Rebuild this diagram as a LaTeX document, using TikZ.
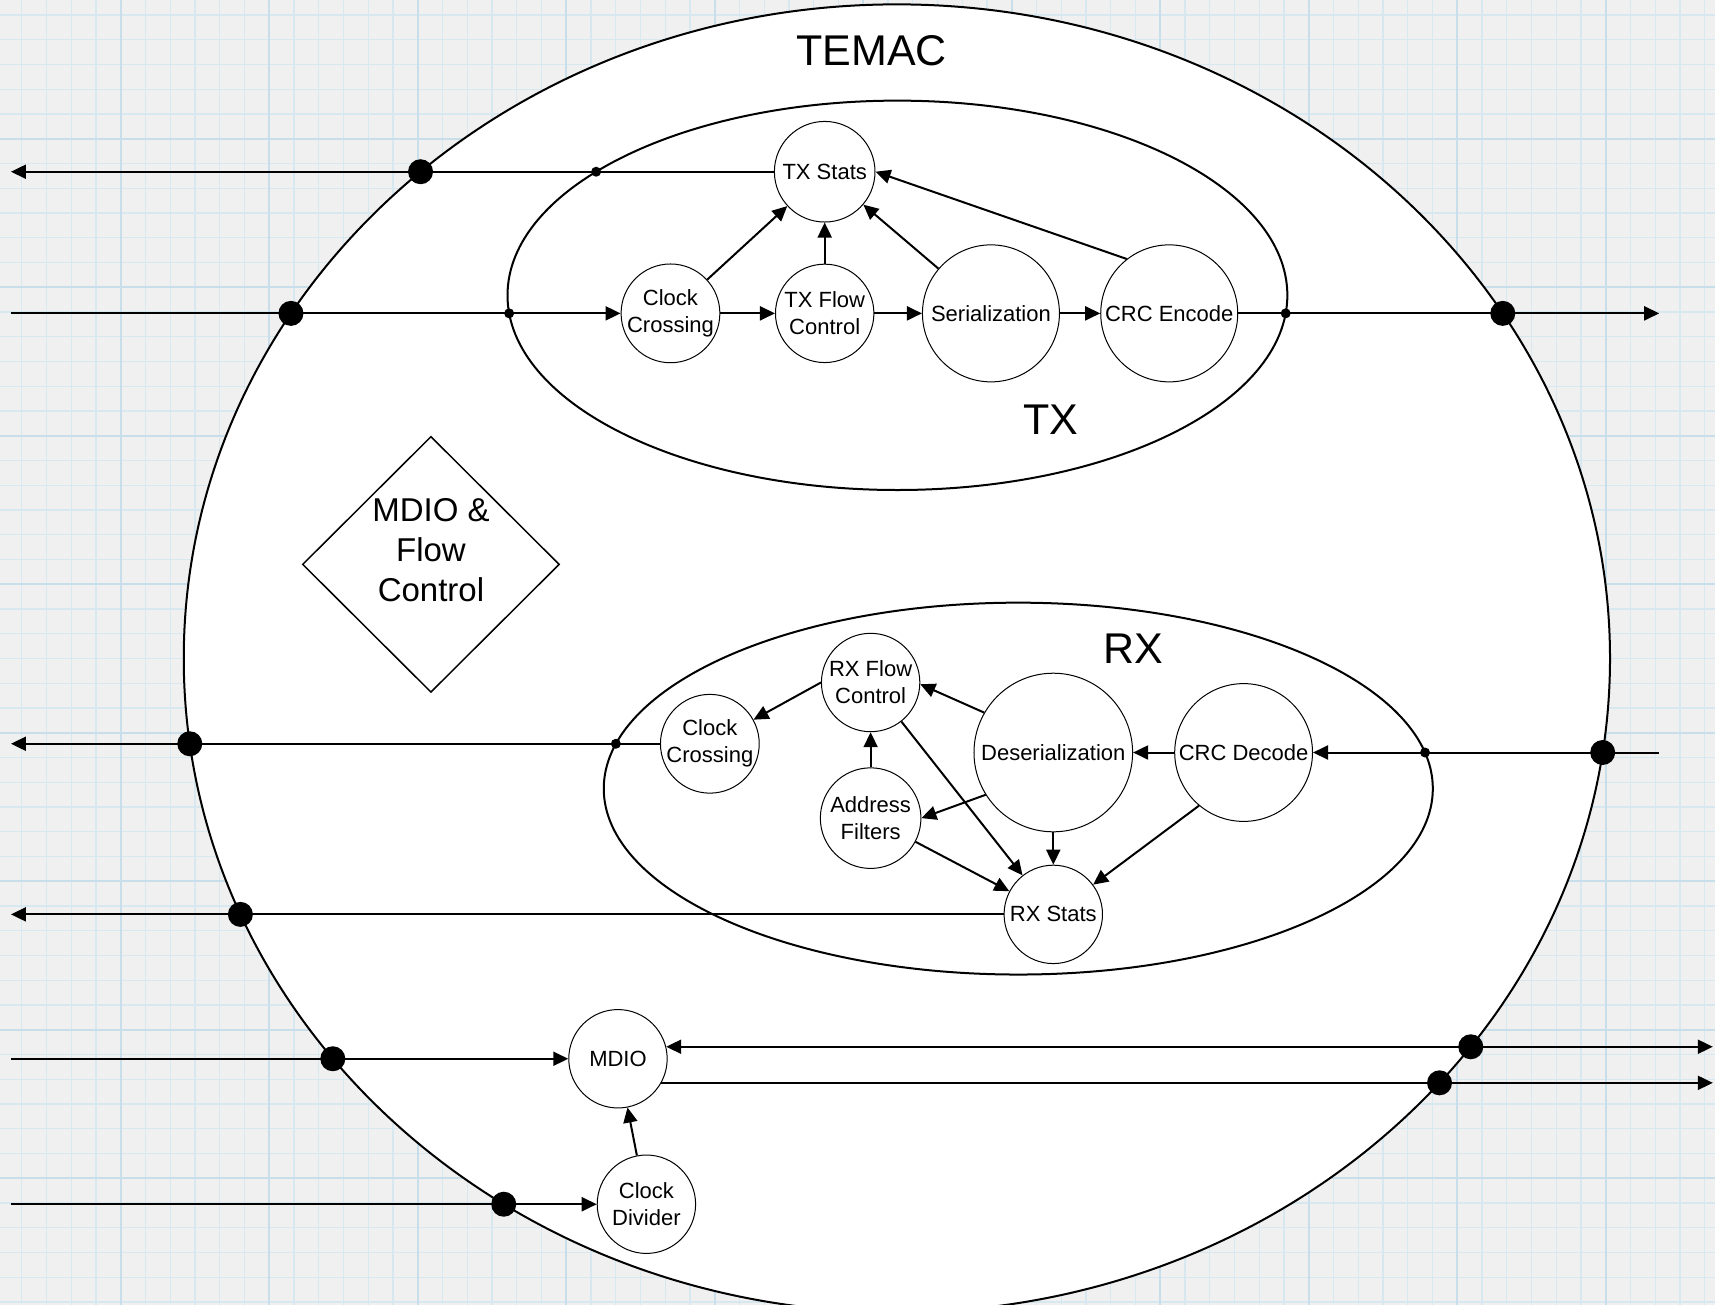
\documentclass[tikz,border=0pt]{standalone}
\usepackage{fontspec}
\setmainfont{Liberation Sans}
\usetikzlibrary{arrows.meta,shapes.geometric,intersections}
\definecolor{bgc}{HTML}{F0F0F0}
\definecolor{gridminor}{HTML}{D8E8F0}
\definecolor{gridmajor}{HTML}{C8DEEA}
\begin{document}
\begin{tikzpicture}[x=1.09375pt, y=-1.09375pt,
  blk/.style={circle, draw, line width=1pt, fill=white, inner sep=0pt, align=center,
    font=\fontsize{22}{27}\selectfont, minimum size=98.4pt},
  wire/.style={line width=2pt},
  arr/.style={wire, -{Triangle[length=15pt,width=14pt]}},
  biarr/.style={wire, {Triangle[length=15pt,width=14pt]}-{Triangle[length=15pt,width=14pt]}},
  bigdot/.style={circle, fill=black, inner sep=0pt, minimum size=25pt},
  smalldot/.style={circle, fill=black, inner sep=0pt, minimum size=10pt},
  biglabel/.style={font=\fontsize{43}{50}\selectfont, inner sep=0pt},
  frame/.style={line width=2pt}]

\useasboundingbox (0,0) rectangle (1568,1193);
\clip (0,0) rectangle (1568,1193);
% background grid
\fill[bgc] (0,0) rectangle (1568,1193);
\foreach \i in {0,...,69} \draw[gridminor, line width=1.2pt] ({19.8+\i*22.63},0) -- ({19.8+\i*22.63},1193);
\foreach \j in {0,...,52} \draw[gridminor, line width=1.2pt] (0,{13.7+\j*22.63}) -- (1568,{13.7+\j*22.63});
\foreach \i in {0,...,11} \draw[gridmajor, line width=2pt] ({110.3+\i*135.78},0) -- ({110.3+\i*135.78},1193);
\foreach \j in {0,...,8} \draw[gridmajor, line width=2pt] (0,{126.9+\j*135.78}) -- (1568,{126.9+\j*135.78});

% containers
\draw[frame, fill=white, name path=temacP] (820,602) ellipse [x radius=652, y radius=598];
\draw[frame, name path=txP] (820.5,270) ellipse [x radius=356.5, y radius=178];
\draw[frame, name path=rxP] (931,721) ellipse [x radius=379, y radius=170];

\node[draw, shape=diamond, line width=1.5pt, minimum width=257pt, minimum height=256pt, inner sep=0pt,
  label={[font=\fontsize{33}{40}\selectfont, align=center, yshift=14pt]center:MDIO \&\\Flow\\Control}]
  (mdioflow) at (394,516) {};

\node[biglabel] (temacL) at (797,46) {TEMAC};
\node[biglabel] (txL) at (961,384) {TX};
\node[biglabel] (rxL) at (1036,593) {RX};

% edge x positions
\coordinate (lft) at (10,0);
\coordinate (txend) at (1517,0);
\coordinate (rxin) at (1517,0);
\coordinate (rgt) at (1566,0);

% TX blocks
\node[blk, minimum size=100.6pt] (txstats) at (754,157) {TX Stats};
\node[blk] (txcc) at (613,286.5) {Clock\\Crossing};
\node[blk] (txflow) at (754,286.5) {TX Flow\\Control};
\node[blk, minimum size=137pt] (ser) at (906,286.5) {Serialization};
\node[blk, minimum size=137pt] (crcenc) at (1069,286.5) {CRC Encode};

% RX blocks
\node[blk] (rxflow) at (796,624) {RX Flow\\Control};
\node[blk] (rxcc) at (649,680) {Clock\\Crossing};
\node[blk, minimum size=100.6pt] (addr) at (796,748) {Address\\Filters};
\node[blk, minimum size=158.6pt] (deser) at (963,688) {Deserialization};
\node[blk, minimum size=137.8pt] (crcdec) at (1137,688) {CRC Decode};
\node[blk] (rxstats) at (963,836) {RX Stats};

% MDIO blocks
\node[blk] (mdio) at (565,968) {MDIO};
\node[blk] (clkdiv) at (591,1101) {Clock\\Divider};

% TX connectors
\draw[arr, name path=w1] (txstats.west) -- (txstats.west -| lft);
\draw[arr, name path=w2] (txcc.west -| lft) -- (txcc.west);
\draw[arr] (txcc) -- (txflow);
\draw[arr] (txflow) -- (ser);
\draw[arr] (ser) -- (crcenc);
\draw[arr, name path=w3] (crcenc.east) -- (crcenc.east -| txend);
\draw[arr] (txcc) -- (txstats);
\draw[arr] (txflow) -- (txstats);
\draw[arr] (ser) -- (txstats);
\draw[arr] (crcenc.128) -- (txstats.east);

% RX connectors
\draw[arr, name path=w4] (crcdec.east -| rxin) -- (crcdec.east);
\draw[arr] (crcdec) -- (deser);
\draw[arr] (deser.150) -- (rxflow.-2);
\draw[arr] (rxflow.west) -- (rxcc);
\draw[arr] (addr) -- (rxflow);
\draw[arr] (deser.212) -- (addr.east);
\draw[arr] (rxflow) -- (rxstats);
\draw[arr] (addr) -- (rxstats);
\draw[arr] (deser) -- (rxstats);
\draw[arr] (crcdec.230) -- (rxstats);
\draw[arr, name path=w5] (rxcc.west) -- (rxcc.west -| lft);
\draw[arr, name path=w6] (rxstats.west) -- (rxstats.west -| lft);

% MDIO connectors
\draw[arr, name path=w7] (mdio.west -| lft) -- (mdio.west);
\draw[arr, name path=w8] (clkdiv.west -| lft) -- (clkdiv.west);
\draw[arr] (clkdiv) -- (mdio);
\draw[biarr, name path=w9] (mdio.14) -- (mdio.14 -| rgt);
\draw[arr, name path=w10] (mdio.-29) -- (mdio.-29 -| rgt);

% junction dots on TEMAC boundary
\foreach \w in {1,...,10} {
  \path[name intersections={of=temacP and w\w, by=b\w}];
  \node[bigdot] at (b\w) {};
}
% junction dots on TX / RX boundaries
\foreach \w in {1,2,3} {
  \path[name intersections={of=txP and w\w, by=s\w}];
  \node[smalldot] at (s\w) {};
}
\foreach \w in {4,5} {
  \path[name intersections={of=rxP and w\w, by=s\w}];
  \node[smalldot] at (s\w) {};
}
\end{tikzpicture}
\end{document}
